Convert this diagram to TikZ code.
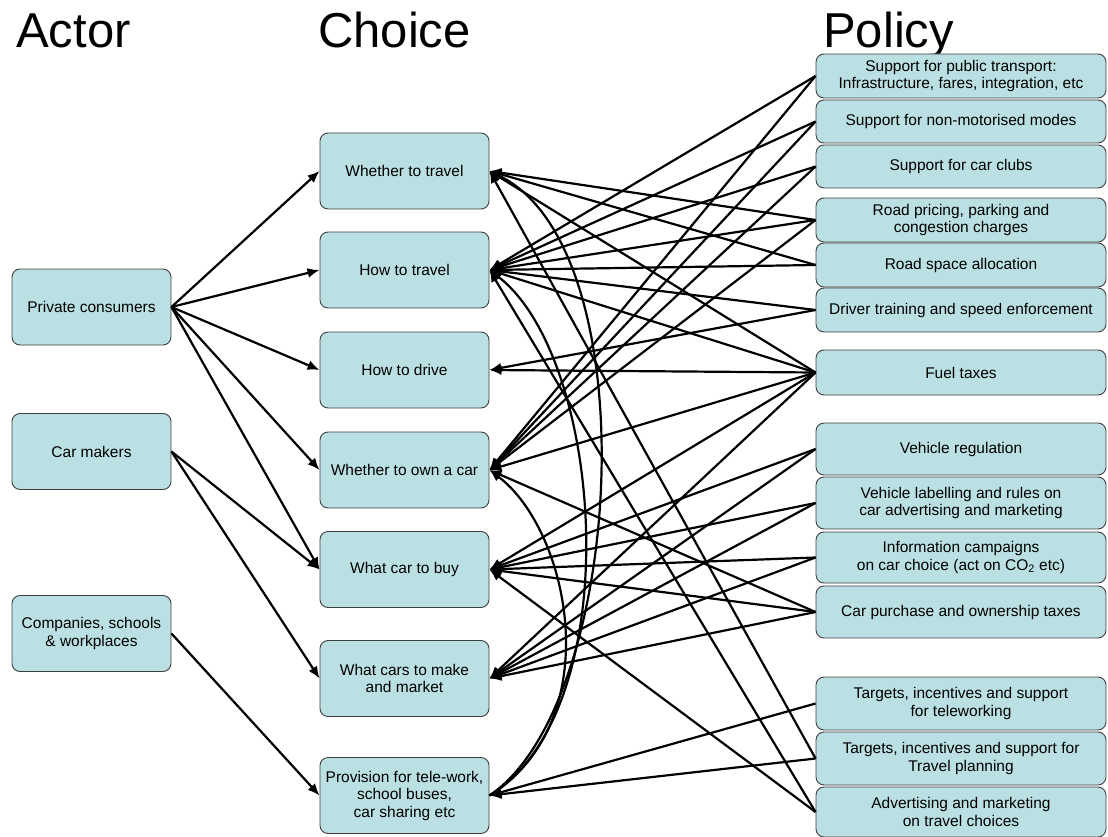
\documentclass[tikz,border=0pt]{standalone}
\usepackage{fontspec}
\setmainfont{Liberation Sans}
\usetikzlibrary{arrows.meta}
\definecolor{boxfill}{RGB}{187,224,227}
\tikzset{
  box/.style={draw=black!75, line width=0.9pt, fill=boxfill, rounded corners=8pt,
    align=center, inner sep=0pt, font=\fontsize{15.5}{17.5}\selectfont},
  actor/.style={box, minimum width=159, minimum height=76},
  choice/.style={box, minimum width=169, minimum height=76},
  policy/.style={box, minimum width=290},
  title/.style={anchor=base west, inner sep=0pt, font=\fontsize{49}{49}\selectfont},
  link/.style={-{Latex[length=12pt,width=10pt]}, line width=2.2pt},
}
\begin{document}
\begin{tikzpicture}[x=1pt,y=-1pt]
\useasboundingbox (0,0) rectangle (1108,837);

\node[title] (tactor) at (16,48) {Actor};
\node[title] (tchoice) at (318,48) {Choice};
\node[title] (tpolicy) at (823,48) {Policy};

\node[actor] (pc) at (91.5,307) {Private consumers};
\node[actor] (cm) at (91.5,451.5) {Car makers};
\node[actor] (co) at (91.5,633.5) {Companies, schools\\ \& workplaces};

\node[choice] (w) at (404.5,171) {Whether to travel};
\node[choice] (ht) at (404.5,270) {How to travel};
\node[choice] (hd) at (404.5,370) {How to drive};
\node[choice] (wo) at (404.5,470) {Whether to own a car};
\node[choice] (wb) at (404.5,569.5) {What car to buy};
\node[choice] (wm) at (404.5,678.5) {What cars to make\\ and market};
\node[choice] (pr) at (404.5,795.5) {Provision for tele-work,\\ school buses,\\ car sharing etc};

\node[policy, minimum height=44] (pt) at (961,76) {Support for public transport:\\ Infrastructure, fares, integration, etc};
\node[policy, minimum height=43] (nm) at (961,121.5) {Support for non-motorised modes};
\node[policy, minimum height=43] (cc) at (961,166.5) {Support for car clubs};
\node[policy, minimum height=44] (rp) at (961,220) {Road pricing, parking and\\ congestion charges};
\node[policy, minimum height=44] (rs) at (961,265) {Road space allocation};
\node[policy, minimum height=44] (dt) at (961,310) {Driver training and speed enforcement};
\node[policy, minimum height=45] (ft) at (961,372.5) {Fuel taxes};
\node[policy, minimum height=52] (vr) at (961,449) {Vehicle regulation};
\node[policy, minimum height=52] (vl) at (961,503) {Vehicle labelling and rules on\\ car advertising and marketing};
\node[policy, minimum height=51] (ic) at (961,557.5) {Information campaigns\\ on car choice (act on CO\textsubscript{2} etc)};
\node[policy, minimum height=52] (cp) at (961,612) {Car purchase and ownership taxes};
\node[policy, minimum height=53] (tt) at (961,703.5) {Targets, incentives and support\\ for teleworking};
\node[policy, minimum height=53] (tp) at (961,758.5) {Targets, incentives and support for\\ Travel planning};
\node[policy, minimum height=50] (ad) at (961,812) {Advertising and marketing\\ on travel choices};

\draw[link] (pc.east) -- (w.west);
\draw[link] (pc.east) -- (ht.west);
\draw[link] (pc.east) -- (hd.west);
\draw[link] (pc.east) -- (wo.west);
\draw[link] (pc.east) -- (wb.west);
\draw[link] (cm.east) -- (wb.west);
\draw[link] (cm.east) -- (wm.west);
\draw[link] (co.east) -- (pr.west);

\draw[link] (rp.west) -- (w.east);
\draw[link] (rs.west) -- (w.east);
\draw[link] (ft.west) -- (w.east);
\draw[link] (tp.west) -- (w.east);

\draw[link] (pt.west) -- (ht.east);
\draw[link] (nm.west) -- (ht.east);
\draw[link] (cc.west) -- (ht.east);
\draw[link] (rp.west) -- (ht.east);
\draw[link] (rs.west) -- (ht.east);
\draw[link] (dt.west) -- (ht.east);
\draw[link] (ft.west) -- (ht.east);
\draw[link] (ad.west) -- (ht.east);

\draw[link] (dt.west) -- (hd.east);
\draw[link] (ft.west) -- (hd.east);

\draw[link] (pt.west) -- (wo.east);
\draw[link] (nm.west) -- (wo.east);
\draw[link] (cc.west) -- (wo.east);
\draw[link] (rp.west) -- (wo.east);
\draw[link] (ft.west) -- (wo.east);
\draw[link] (cp.west) -- (wo.east);

\draw[link] (ft.west) -- (wb.east);
\draw[link] (vr.west) -- (wb.east);
\draw[link] (vl.west) -- (wb.east);
\draw[link] (ic.west) -- (wb.east);
\draw[link] (cp.west) -- (wb.east);
\draw[link] (ad.west) -- (wb.east);

\draw[link] (ft.west) -- (wm.east);
\draw[link] (vr.west) -- (wm.east);
\draw[link] (vl.west) -- (wm.east);
\draw[link] (ic.west) -- (wm.east);
\draw[link] (cp.west) -- (wm.east);

\draw[link] (tt.west) -- (pr.east);
\draw[link] (tp.west) -- (pr.east);

\draw[link] (pr.east) .. controls +(135,-90) and +(160,78) .. (w.east);
\draw[link] (pr.east) .. controls +(140,-85) and +(115,88) .. (ht.east);
\draw[link] (pr.east) .. controls +(120,-75) and +(80,60) .. (wo.east);
\end{tikzpicture}
\end{document}
